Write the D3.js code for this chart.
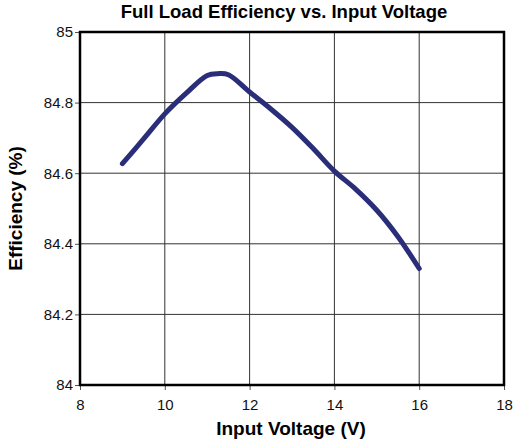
<!DOCTYPE html>
<html>
<head>
<meta charset="utf-8">
<script src="https://cdn.jsdelivr.net/npm/d3@7"></script>
<style>
  body { margin: 0; background: #fff; }
  text { font-family: "Liberation Sans", Arial, sans-serif; }
</style>
</head>
<body>
<svg id="chart" width="515" height="444"></svg>
<script>
// values
const voltage = [9, 9.5, 10, 10.5, 11, 11.25, 11.5, 12, 12.5, 13, 13.5, 14, 14.5, 15, 15.5, 16]
const efficiency = [84.627, 84.697, 84.768, 84.826, 84.877, 84.882, 84.879, 84.83, 84.782, 84.73, 84.67, 84.606, 84.555, 84.495, 84.42, 84.33]
const xTicks = [8, 10, 12, 14, 16, 18]
const yTicks = [84, 84.2, 84.4, 84.6, 84.8, 85]

const svg = d3.select('#chart')
const plotLeft = 80, plotRight = 504, plotTop = 32, plotBottom = 385

const x = d3.scaleLinear().domain([8, 18]).range([plotLeft, plotRight])
const y = d3.scaleLinear().domain([84, 85]).range([plotBottom, plotTop])

// grid
svg.append('g')
  .selectAll('line')
  .data(xTicks.slice(1, -1))
  .join('line')
  .attr('x1', d => x(d)).attr('x2', d => x(d))
  .attr('y1', plotTop).attr('y2', plotBottom)
  .attr('stroke', '#333').attr('stroke-width', 1)

svg.append('g')
  .selectAll('line')
  .data(yTicks.slice(1, -1))
  .join('line')
  .attr('x1', plotLeft).attr('x2', plotRight)
  .attr('y1', d => y(d)).attr('y2', d => y(d))
  .attr('stroke', '#333').attr('stroke-width', 1)

// axes
const xAxis = svg.append('g')
  .attr('transform', `translate(0,${plotBottom})`)
  .call(d3.axisBottom(x).tickValues(xTicks).tickSize(5).tickSizeOuter(0).tickFormat(d3.format('d')))
const yAxis = svg.append('g')
  .attr('transform', `translate(${plotLeft},0)`)
  .call(d3.axisLeft(y).tickValues(yTicks).tickSize(5).tickSizeOuter(0).tickFormat(d => +d.toFixed(1)))

;[xAxis, yAxis].forEach(a => {
  a.select('.domain').remove()
  a.selectAll('text').style('font-size', '15px').attr('fill', '#111')
  a.selectAll('line').attr('stroke', '#555')
})
xAxis.selectAll('text').attr('y', 25).attr('dy', null)
yAxis.selectAll('text').attr('x', -7)

// frame
svg.append('rect')
  .attr('x', plotLeft).attr('y', plotTop)
  .attr('width', plotRight - plotLeft).attr('height', plotBottom - plotTop)
  .attr('fill', 'none').attr('stroke', '#000').attr('stroke-width', 2.5)

// curve
const line = d3.line()
  .x((d, i) => x(voltage[i]))
  .y(d => y(d))
  .curve(d3.curveCatmullRom)

svg.append('path')
  .datum(efficiency)
  .attr('d', line)
  .attr('fill', 'none')
  .attr('stroke', '#2a2d77')
  .attr('stroke-width', 5)
  .attr('stroke-linecap', 'round')
  .attr('stroke-linejoin', 'round')

// titles
svg.append('text')
  .attr('x', 284).attr('y', 18)
  .attr('text-anchor', 'middle')
  .style('font-size', '18.5px').style('font-weight', 'bold')
  .text('Full Load Efficiency vs. Input Voltage')

svg.append('text')
  .attr('x', 291).attr('y', 435)
  .attr('text-anchor', 'middle')
  .style('font-size', '19px').style('font-weight', 'bold')
  .text('Input Voltage (V)')

svg.append('text')
  .attr('transform', `translate(22,${(plotTop + plotBottom) / 2}) rotate(-90)`)
  .attr('text-anchor', 'middle')
  .style('font-size', '19px').style('font-weight', 'bold')
  .text('Efficiency (%)')
</script>
</body>
</html>
